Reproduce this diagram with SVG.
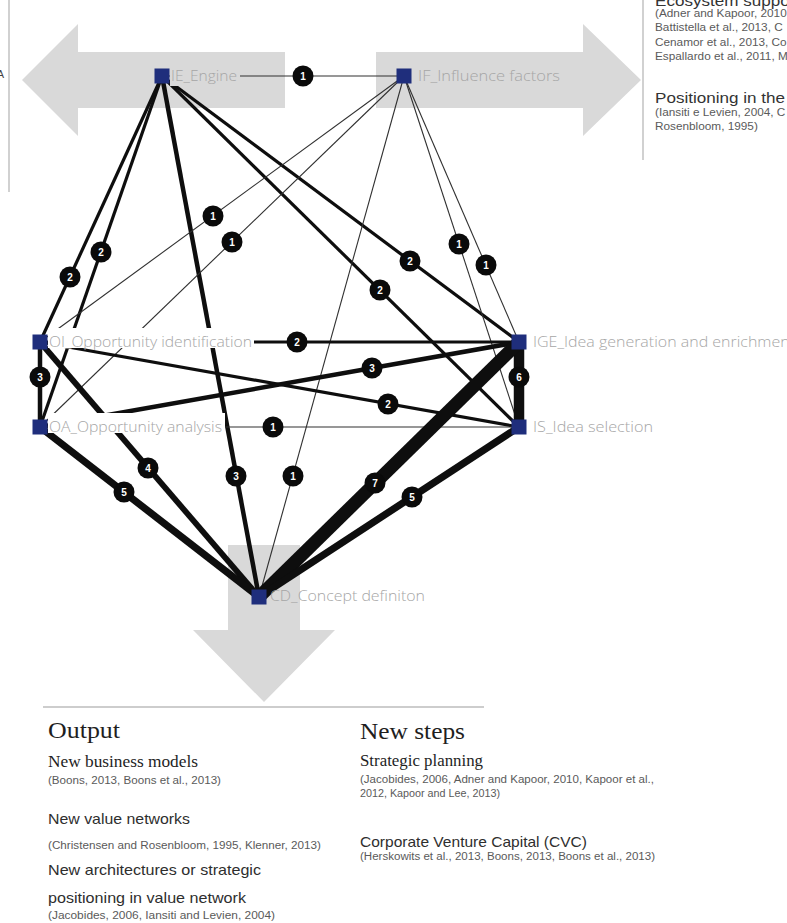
<svg xmlns="http://www.w3.org/2000/svg" width="787" height="923" viewBox="0 0 787 923">
<style>
  .arrow { fill: #d9d9d9; }
  .frame { stroke: #c2c2c2; stroke-width: 1.5; fill: none; }
  .e { stroke: #0e0e0e; fill: none; stroke-linecap: butt; }
  .w1 { stroke-width: 1.1; stroke: #303030; }
  .w2 { stroke-width: 3.2; }
  .w3 { stroke-width: 4.5; }
  .w4 { stroke-width: 5.8; }
  .w5 { stroke-width: 7.2; }
  .w6 { stroke-width: 10.5; }
  .w7 { stroke-width: 13; }
  .badge circle { fill: #0a0a0a; }
  .badge text { fill: #ffffff; font-family: "Liberation Sans", Arial, sans-serif; font-weight: bold; font-size: 10px; text-anchor: middle; }
  .sq { fill: #1f2e7c; }
  .lbl { font-family: "Open Sans", "Liberation Sans", sans-serif; font-weight: 300; font-size: 14px; fill: #a6a6a6; }
  .serif-h { font-family: "Liberation Serif", "Times New Roman", serif; fill: #1e1e1e; }
  .sans { font-family: "Liberation Sans", Arial, sans-serif; }
  .item { font-size: 15px; fill: #2e2e2e; }
  .ref { font-size: 10px; fill: #5a5a5a; }
</style>

<!-- background: process arrows and side frames -->
<g id="backdrop">
  <polygon class="arrow" points="22,80 78,24 78,52 285,52 285,108 78,108 78,136"/>
  <polygon class="arrow" points="376,52 583,52 583,24 641,80 583,136 583,108 376,108"/>
  <polygon class="arrow" points="228,545 300,545 300,630 335,630 264,702 193,630 228,630"/>
  <line class="frame" x1="9" y1="0" x2="9" y2="192"/>
  <line class="frame" x1="643" y1="0" x2="643" y2="160"/>
  <line x1="43" y1="707" x2="484" y2="707" stroke="#cdcdcd" stroke-width="2.2"/>
  <text class="sans" x="4" y="78" font-size="11" fill="#444" text-anchor="end">A</text>
</g>

<!-- literature notes, top right -->
<g id="notes-top" class="sans">
  <text transform="translate(655,6) scale(1.22,1)" font-size="14" fill="#333">Ecosystem support</text>
  <text transform="translate(655,17) scale(1.18,1)" class="ref" font-size="10.5">(Adner and Kapoor, 2010,</text>
  <text transform="translate(655,31) scale(1.18,1)" class="ref" font-size="10.5">Battistella et al., 2013, C</text>
  <text transform="translate(655,46) scale(1.18,1)" class="ref" font-size="10.5">Cenamor et al., 2013, Co</text>
  <text transform="translate(655,60) scale(1.18,1)" class="ref" font-size="10.5">Espallardo et al., 2011, M</text>
  <text transform="translate(655,103) scale(1.22,1)" font-size="14" fill="#333">Positioning in the</text>
  <text transform="translate(655,116) scale(1.18,1)" class="ref" font-size="10.5">(Iansiti e Levien, 2004, C</text>
  <text transform="translate(655,130) scale(1.18,1)" class="ref" font-size="10.5">Rosenbloom, 1995)</text>
</g>

<!-- weighted connectors -->
<g id="connectors">
  <line class="e w1" x1="162" y1="76" x2="404" y2="76" stroke-width="1.6"/>
  <line class="e w2" x1="162" y1="76" x2="40" y2="342"/>
  <line class="e w2" x1="162" y1="76" x2="40" y2="427"/>
  <line class="e w3" x1="162" y1="76" x2="259" y2="597"/>
  <line class="e w2" x1="162" y1="76" x2="519" y2="342"/>
  <line class="e w2" x1="162" y1="76" x2="519" y2="427"/>
  <line class="e w1" x1="404" y1="76" x2="40" y2="342"/>
  <line class="e w1" x1="404" y1="76" x2="40" y2="427"/>
  <line class="e w1" x1="404" y1="76" x2="259" y2="597"/>
  <line class="e w1" x1="404" y1="76" x2="519" y2="342"/>
  <line class="e w1" x1="404" y1="76" x2="519" y2="427"/>
  <line class="e w3" x1="40" y1="342" x2="40" y2="427"/>
  <line class="e w2" x1="40" y1="342" x2="519" y2="342"/>
  <line class="e w2" x1="40" y1="342" x2="519" y2="427"/>
  <line class="e w4" x1="40" y1="342" x2="259" y2="597"/>
  <line class="e w3" x1="40" y1="427" x2="519" y2="342"/>
  <line class="e w1" x1="40" y1="427" x2="519" y2="427"/>
  <line class="e w5" x1="40" y1="427" x2="259" y2="597"/>
  <line class="e w6" x1="519" y1="342" x2="519" y2="427"/>
  <line class="e w7" x1="519" y1="342" x2="259" y2="597"/>
  <line class="e w5" x1="519" y1="427" x2="259" y2="597"/>

  <g class="badge"><circle cx="303" cy="76" r="10.5"/><text x="303" y="79.6">1</text></g>
  <g class="badge"><circle cx="70" cy="277" r="10.5"/><text x="70" y="280.6">2</text></g>
  <g class="badge"><circle cx="101" cy="252" r="10.5"/><text x="101" y="255.6">2</text></g>
  <g class="badge"><circle cx="236" cy="476" r="10.5"/><text x="236" y="479.6">3</text></g>
  <g class="badge"><circle cx="410" cy="261" r="10.5"/><text x="410" y="264.6">2</text></g>
  <g class="badge"><circle cx="380" cy="290" r="10.5"/><text x="380" y="293.6">2</text></g>
  <g class="badge"><circle cx="213" cy="216" r="10.5"/><text x="213" y="219.6">1</text></g>
  <g class="badge"><circle cx="232" cy="242" r="10.5"/><text x="232" y="245.6">1</text></g>
  <g class="badge"><circle cx="293" cy="476" r="10.5"/><text x="293" y="479.6">1</text></g>
  <g class="badge"><circle cx="486" cy="265" r="10.5"/><text x="486" y="268.6">1</text></g>
  <g class="badge"><circle cx="459" cy="244" r="10.5"/><text x="459" y="247.6">1</text></g>
  <g class="badge"><circle cx="40" cy="377" r="10.5"/><text x="40" y="380.6">3</text></g>
  <g class="badge"><circle cx="297" cy="342" r="10.5"/><text x="297" y="345.6">2</text></g>
  <g class="badge"><circle cx="388" cy="404" r="10.5"/><text x="388" y="407.6">2</text></g>
  <g class="badge"><circle cx="148" cy="468" r="10.5"/><text x="148" y="471.6">4</text></g>
  <g class="badge"><circle cx="372" cy="368" r="10.5"/><text x="372" y="371.6">3</text></g>
  <g class="badge"><circle cx="273" cy="427" r="10.5"/><text x="273" y="430.6">1</text></g>
  <g class="badge"><circle cx="124" cy="492" r="10.5"/><text x="124" y="495.6">5</text></g>
  <g class="badge"><circle cx="519" cy="377" r="10.5"/><text x="519" y="380.6">6</text></g>
  <g class="badge"><circle cx="375" cy="483" r="10.5"/><text x="375" y="486.6">7</text></g>
  <g class="badge"><circle cx="412" cy="497" r="10.5"/><text x="412" y="500.6">5</text></g>
</g>

<!-- nodes -->
<g id="IE">
  <rect x="170" y="67" width="70" height="19" fill="#d9d9d9"/>
  <text class="lbl" x="171" y="81" textLength="66" lengthAdjust="spacingAndGlyphs">IE_Engine</text>
  <rect class="sq" x="154.5" y="68.5" width="15" height="15"/>
</g>
<g id="IF">
  <text class="lbl" x="418" y="81" textLength="142" lengthAdjust="spacingAndGlyphs">IF_Influence factors</text>
  <rect class="sq" x="396.5" y="68.5" width="15" height="15"/>
</g>
<g id="OI">
  <rect x="48" y="328" width="206" height="20" fill="#ffffff"/>
  <text class="lbl" x="49" y="347" textLength="203" lengthAdjust="spacingAndGlyphs">OI_Opportunity identification</text>
  <rect class="sq" x="32.5" y="334.5" width="15" height="15"/>
</g>
<g id="OA">
  <rect x="48" y="413" width="177" height="20" fill="#ffffff"/>
  <text class="lbl" x="49" y="432" textLength="173" lengthAdjust="spacingAndGlyphs">OA_Opportunity analysis</text>
  <rect class="sq" x="32.5" y="419.5" width="15" height="15"/>
</g>
<g id="IGE">
  <text class="lbl" x="533" y="347" textLength="262" lengthAdjust="spacingAndGlyphs">IGE_Idea generation and enrichment</text>
  <rect class="sq" x="511.5" y="334.5" width="15" height="15"/>
</g>
<g id="IS">
  <text class="lbl" x="533" y="432" textLength="120" lengthAdjust="spacingAndGlyphs">IS_Idea selection</text>
  <rect class="sq" x="511.5" y="419.5" width="15" height="15"/>
</g>
<g id="CD">
  <text class="lbl" x="270" y="601" textLength="155" lengthAdjust="spacingAndGlyphs">CD_Concept definiton</text>
  <rect class="sq" x="251.5" y="589.5" width="15" height="15"/>
</g>

<!-- outcome notes, bottom -->
<g id="notes-output">
  <text class="serif-h" x="48" y="738" font-size="23" textLength="72" lengthAdjust="spacingAndGlyphs">Output</text>
  <text class="serif-h" x="48" y="767" font-size="16" fill="#2e2e2e" textLength="150" lengthAdjust="spacingAndGlyphs">New business models</text>
  <text class="sans ref" x="48" y="784" textLength="173" lengthAdjust="spacingAndGlyphs">(Boons, 2013, Boons et al., 2013)</text>
  <text class="sans item" x="48" y="824" textLength="142" lengthAdjust="spacingAndGlyphs">New value networks</text>
  <text class="sans ref" x="48" y="849" textLength="273" lengthAdjust="spacingAndGlyphs">(Christensen and Rosenbloom, 1995, Klenner, 2013)</text>
  <text class="sans item" x="48" y="875" textLength="213" lengthAdjust="spacingAndGlyphs">New architectures or strategic</text>
  <text class="sans item" x="48" y="903" textLength="198" lengthAdjust="spacingAndGlyphs">positioning in value network</text>
  <text class="sans ref" x="48" y="919" textLength="227" lengthAdjust="spacingAndGlyphs">(Jacobides, 2006, Iansiti and Levien, 2004)</text>
</g>
<g id="notes-steps">
  <text class="serif-h" x="360" y="739" font-size="23" textLength="105" lengthAdjust="spacingAndGlyphs">New steps</text>
  <text class="serif-h" x="360" y="766" font-size="16" fill="#2e2e2e" textLength="123" lengthAdjust="spacingAndGlyphs">Strategic planning</text>
  <text class="sans ref" x="360" y="783" textLength="294" lengthAdjust="spacingAndGlyphs">(Jacobides, 2006, Adner and Kapoor, 2010, Kapoor et al.,</text>
  <text class="sans ref" x="360" y="797" textLength="140" lengthAdjust="spacingAndGlyphs">2012, Kapoor and Lee, 2013)</text>
  <text class="sans item" x="360" y="847" textLength="227" lengthAdjust="spacingAndGlyphs">Corporate Venture Capital (CVC)</text>
  <text class="sans ref" x="360" y="860" textLength="295" lengthAdjust="spacingAndGlyphs">(Herskowits et al., 2013, Boons, 2013, Boons et al., 2013)</text>
</g>
</svg>
